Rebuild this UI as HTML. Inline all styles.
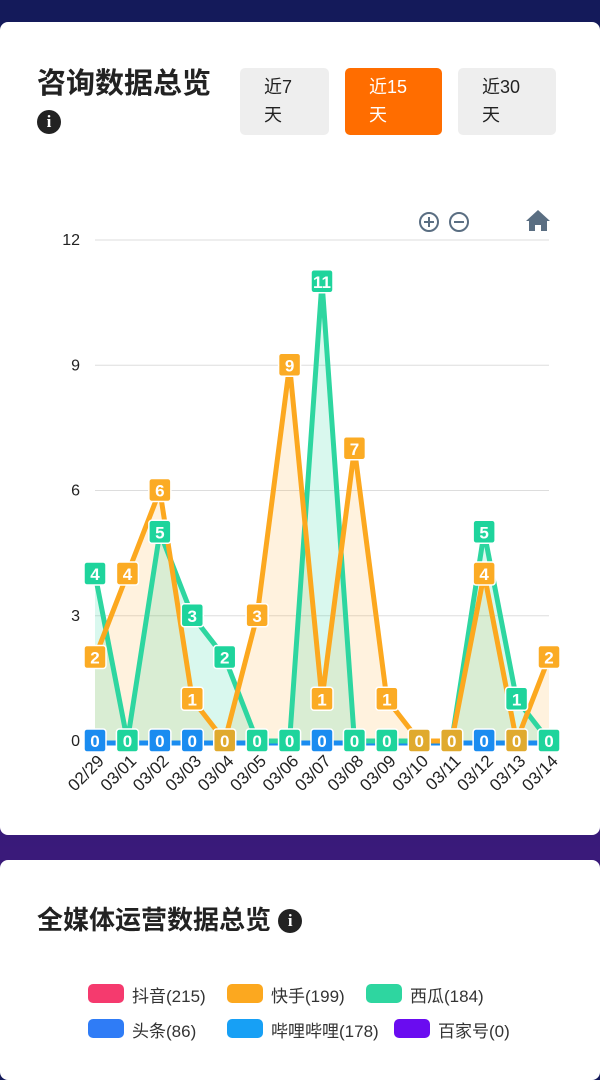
<!DOCTYPE html>
<html><head><meta charset="utf-8"><style>
body{margin:0;width:600px;height:1067px;overflow:hidden;background:linear-gradient(180deg,#141a5a 0%,#1c1f6a 50%,#3a1a7a 80%,#2a1a6a 100%);font-family:"Liberation Sans","Noto Sans CJK SC",sans-serif;position:relative}
.card{position:absolute;left:0;width:600px;background:#fff;border-radius:8px}
h2{position:absolute;margin:0;font-size:29px;font-weight:bold;color:#222}
.btn{position:absolute;top:46px;height:67px;border-radius:5px;background:#eeeeee;color:#222;font-size:18px;line-height:28px;box-sizing:border-box;padding:5px 0 0 24px}
.on{background:#ff6d00;color:#fff}
.info{display:inline-block;width:24px;height:24px;border-radius:50%;background:#222;color:#fff;font:bold 17px/24px "Liberation Serif",serif;text-align:center}
.lg{position:absolute;font-size:17px;color:#333}
.lg i{position:absolute;left:-44px;top:2px;width:36px;height:19px;border-radius:5px}
</style></head><body>
<div class="card" style="top:22px;height:813px">
<h2 style="left:37px;top:38px">咨询数据总览</h2>
<span class="info" style="position:absolute;left:37px;top:88px">i</span>
<div class="btn" style="left:240px;width:89px">近7<br>天</div>
<div class="btn on" style="left:345px;width:97px">近15<br>天</div>
<div class="btn" style="left:458px;width:98px">近30<br>天</div>
</div>
<svg id="ch" style="position:absolute;left:0;top:0" width="600" height="840"></svg>
<div class="card" style="top:860px;height:220px">
<h2 style="left:37px;top:40px;font-size:26px">全媒体运营数据总览 <span class="info" style="vertical-align:3px">i</span></h2>
<div class="lg" style="left:132px;top:122px"><i style="background:#f53a6e"></i>抖音(215)</div>
<div class="lg" style="left:271px;top:122px"><i style="background:#fca81f"></i>快手(199)</div>
<div class="lg" style="left:410px;top:122px"><i style="background:#2ed6a0"></i>西瓜(184)</div>
<div class="lg" style="left:132px;top:157px"><i style="background:#2f7cf6"></i>头条(86)</div>
<div class="lg" style="left:271px;top:157px"><i style="background:#17a0f5"></i>哔哩哔哩(178)</div>
<div class="lg" style="left:438px;top:157px"><i style="background:#6a0cf0"></i>百家号(0)</div>
</div>
<script>
var s='',x0=95,dx=(549-95)/14,y0=741,dy=41.75;
function X(i){return x0+i*dx}function Y(v){return y0-v*dy}
[0,3,6,9,12].forEach(function(v){s+='<line x1="95" x2="549" y1="'+Y(v)+'" y2="'+Y(v)+'" stroke="#ddd"/><text x="80" y="'+(Y(v)+5)+'" font-size="16" fill="#222" text-anchor="end">'+v+'</text>'});
var g=[4,0,5,3,2,0,0,11,0,0,0,0,5,1,0],o=[2,4,6,1,0,3,9,1,7,1,0,0,4,0,2];
function pts(a){return a.map(function(v,i){return X(i)+','+Y(v)}).join(' ')}
s+='<polygon points="'+X(0)+','+y0+' '+pts(o)+' '+X(14)+','+y0+'" fill="#fca81f" opacity="0.15"/>';
s+='<polygon points="'+X(0)+','+y0+' '+pts(g)+' '+X(14)+','+y0+'" fill="#2ed6a0" opacity="0.18"/>';
s+='<line x1="95" x2="549" y1="'+(y0+2)+'" y2="'+(y0+2)+'" stroke="#1a8cf0" stroke-width="5"/>';
s+='<polyline points="'+pts(g)+'" fill="none" stroke="#2ed6a0" stroke-width="5" stroke-linejoin="round"/>';
s+='<polyline points="'+pts(o)+'" fill="none" stroke="#fca81f" stroke-width="5" stroke-linejoin="round"/>';
function lab(i,v,c){s+='<rect x="'+(X(i)-11)+'" y="'+(Y(v)-12)+'" width="22" height="23" rx="3" fill="'+c+'" stroke="#fff" stroke-width="1.5"/><text x="'+X(i)+'" y="'+(Y(v)+6)+'" font-size="17" font-weight="bold" fill="#fff" text-anchor="middle">'+v+'</text>'}
g.forEach(function(v,i){if(v)lab(i,v,'#1ed49c')});o.forEach(function(v,i){if(v)lab(i,v,'#fbab24')});
var zc=['#1a8cf0','#1ed49c','#1a8cf0','#1a8cf0','#e0aa2e','#1ed49c','#1ed49c','#1a8cf0','#1ed49c','#1ed49c','#e0aa2e','#e0aa2e','#1a8cf0','#e0aa2e','#1ed49c'];
zc.forEach(function(c,i){lab(i,0,c)});
var d=['02/29','03/01','03/02','03/03','03/04','03/05','03/06','03/07','03/08','03/09','03/10','03/11','03/12','03/13','03/14'];
d.forEach(function(t,i){s+='<text transform="translate('+(X(i)+10)+',762) rotate(-45)" font-size="17" fill="#222" text-anchor="end">'+t+'</text>'});
s+='<circle cx="429" cy="222" r="9" fill="none" stroke="#5a6e82" stroke-width="2"/><path d="M424 222h10M429 217v10" stroke="#5a6e82" stroke-width="2"/>';
s+='<circle cx="459" cy="222" r="9" fill="none" stroke="#5a6e82" stroke-width="2"/><path d="M454 222h10" stroke="#5a6e82" stroke-width="2"/>';
s+='<path d="M538 210l-12 11h3v10h6v-6h6v6h6v-10h3z" fill="#5a6e82"/>';
document.getElementById('ch').innerHTML=s;
</script>
</body></html>
